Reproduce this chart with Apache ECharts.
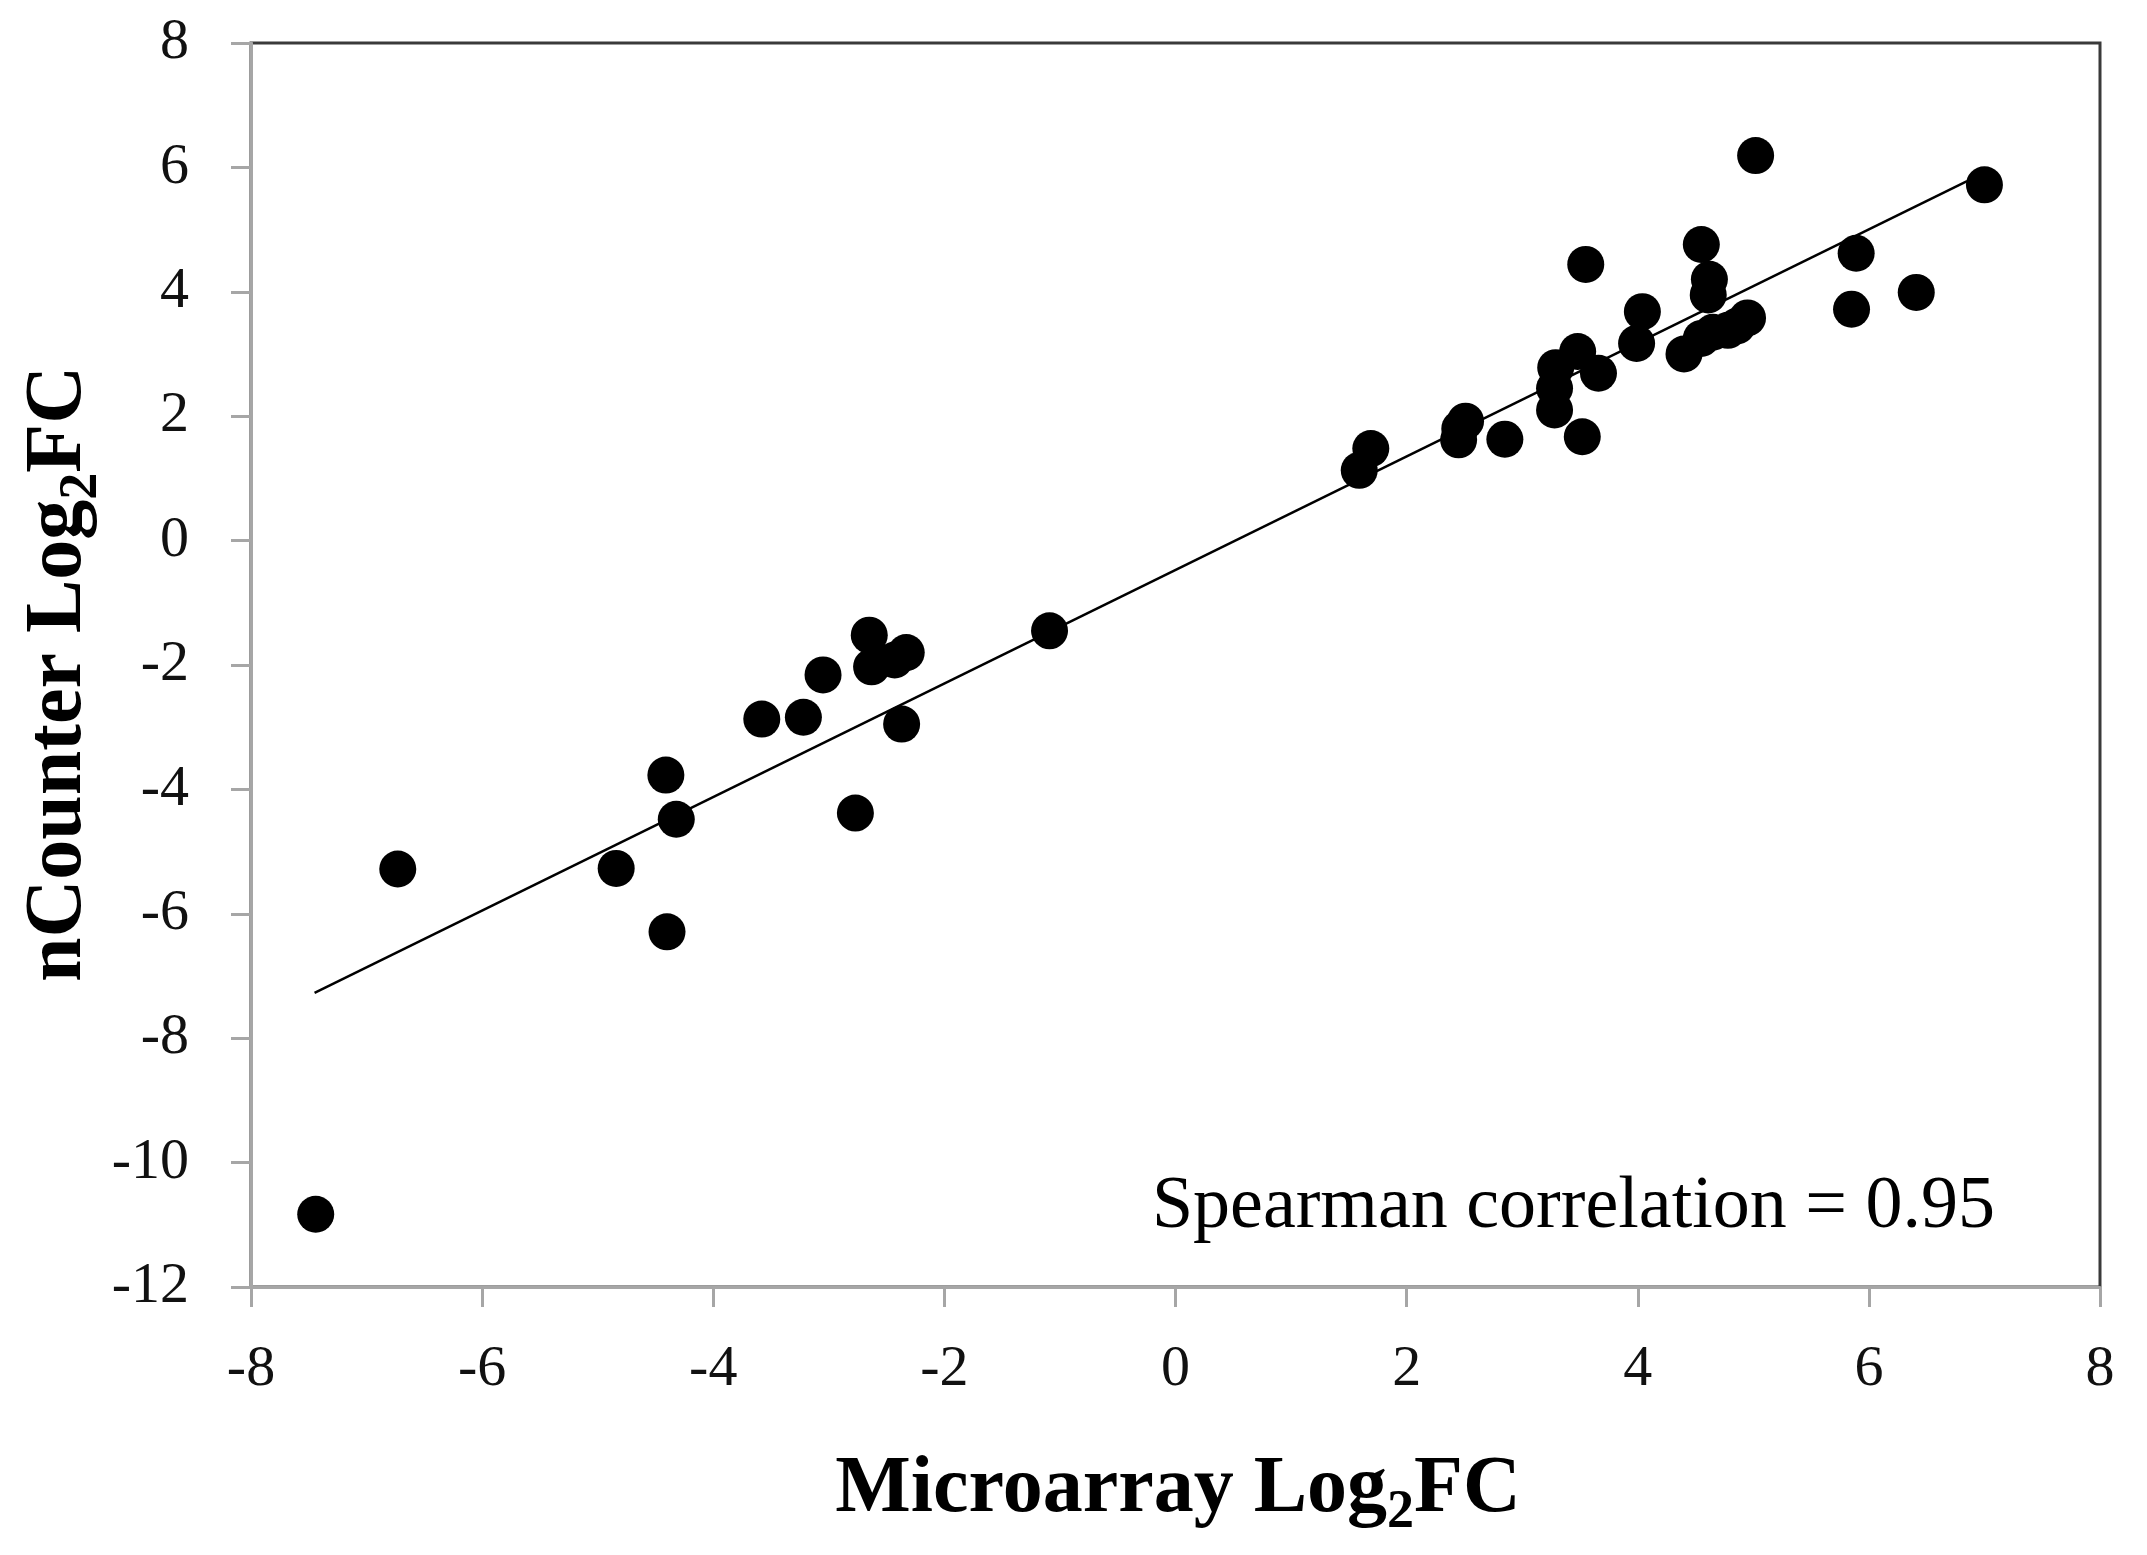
<!DOCTYPE html>
<html>
<head>
<meta charset="utf-8">
<script src="https://cdn.jsdelivr.net/npm/echarts@6/dist/echarts.min.js"></script>
<style>
  html, body { margin: 0; padding: 0; background: #fff; }
  #chart { width: 2147px; height: 1555px; }
</style>
</head>
<body>
<div id="chart"></div>
<script>
// values
var microX = [-7.44, -6.73, -4.84, -4.41, -4.32, -4.40, -3.58, -3.22, -3.05, -2.65,
  -2.63, -2.43, -2.33, -2.37, -2.77, -1.09, 1.59, 1.69, 2.45, 2.46,
  2.51, 2.85, 3.28, 3.28, 3.29, 3.48, 3.52, 3.55, 3.66, 3.99,
  4.04, 4.40, 4.55, 4.55, 4.62, 4.61, 4.65, 4.78, 4.86, 4.95,
  5.02, 5.85, 5.89, 6.41, 7.00];
var nCounterY = [-10.83, -5.28, -5.27, -3.77, -4.48, -6.29, -2.87, -2.84, -2.16, -1.52,
  -2.03, -1.92, -1.80, -2.95, -4.38, -1.45, 1.13, 1.48, 1.62, 1.80,
  1.92, 1.63, 2.10, 2.45, 2.78, 3.04, 1.67, 4.44, 2.69, 3.17,
  3.68, 3.00, 4.76, 3.25, 4.20, 3.95, 3.35, 3.38, 3.45, 3.58,
  6.19, 3.72, 4.62, 3.99, 5.72];
// trend line end points
var fitX = [-7.45, 6.85];
var fitY = [-7.27, 5.78];
var xTicks = { min: -8, max: 8, step: 2 };
var yTicks = { min: -12, max: 8, step: 2 };
var corrText = 'Spearman correlation = 0.95';

var serif = '"Liberation Serif", "Times New Roman", serif';
var axisGray = '#a6a6a6';

var chart = echarts.init(document.getElementById('chart'));

function axisStyle() {
    return {
        axisLine: { show: true, onZero: false, lineStyle: { color: axisGray, width: 3 } },
        axisTick: { show: true, inside: false, length: 20, lineStyle: { color: axisGray, width: 3 } },
        splitLine: { show: false },
        axisLabel: { color: '#111', fontFamily: serif, fontSize: 58 }
    };
}

var xAxis = axisStyle();
xAxis.type = 'value';
xAxis.min = xTicks.min; xAxis.max = xTicks.max; xAxis.interval = xTicks.step;
xAxis.axisLabel.margin = 54;

var yAxis = axisStyle();
yAxis.type = 'value';
yAxis.min = yTicks.min; yAxis.max = yTicks.max; yAxis.interval = yTicks.step;
yAxis.axisLabel.margin = 62;

// subscript "2": smaller and pushed below the baseline
var titleRich = {
    sub: { fontSize: 54, fontWeight: 'bold', fontFamily: serif, lineHeight: 40, verticalAlign: 'bottom', fill: '#000' }
};

function titleStyle(text) {
    return {
        text: text,
        fontSize: 80, fontWeight: 'bold', fontFamily: serif, lineHeight: 100,
        fill: '#000',
        align: 'center', verticalAlign: 'middle',
        textAlign: 'center', textVerticalAlign: 'middle',
        rich: titleRich
    };
}

chart.setOption({
    animation: false,
    backgroundColor: '#fff',
    grid: {
        left: 251, right: 47, top: 43, bottom: 268,
        show: true, borderColor: '#3a3a3a', borderWidth: 3, backgroundColor: 'transparent'
    },
    xAxis: xAxis,
    yAxis: yAxis,
    series: [{
        name: 'genes',
        type: 'scatter',
        symbol: 'circle',
        symbolSize: 37,
        itemStyle: { color: '#000', opacity: 1 },
        z: 3,
        data: microX.map(function (x, i) { return [x, nCounterY[i]]; })
    }, {
        name: 'fit',
        type: 'line',
        symbol: 'none',
        silent: true,
        lineStyle: { color: '#000', width: 2.5 },
        z: 2,
        data: fitX.map(function (x, i) { return [x, fitY[i]]; })
    }],
    graphic: [{
        type: 'text',
        x: 1178, y: 1490,
        style: titleStyle('Microarray Log{sub|2}FC')
    }, {
        type: 'text',
        x: 59, y: 674,
        rotation: Math.PI / 2,
        style: titleStyle('nCounter Log{sub|2}FC')
    }, {
        type: 'text',
        x: 1995, y: 1245,
        style: {
            text: corrText,
            fontSize: 74, fontFamily: serif,
            fill: '#000',
            align: 'right', verticalAlign: 'bottom',
            textAlign: 'right', textVerticalAlign: 'bottom'
        }
    }]
});
</script>
</body>
</html>
